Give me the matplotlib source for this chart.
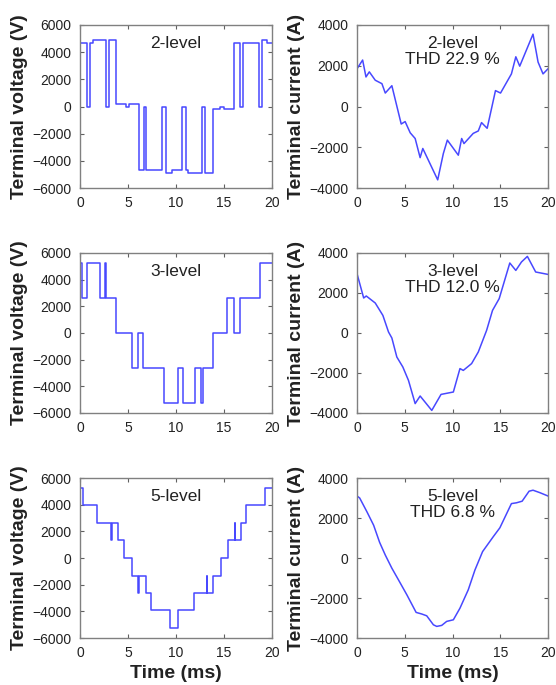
import matplotlib
matplotlib.use("Agg")
import matplotlib.pyplot as plt
import numpy as np

plt.rcParams['font.family'] = ['Liberation Sans', 'DejaVu Sans']

# ---------------- data ----------------
# 2-level terminal voltage (step, steps-post)
v2_t = [0, 0.70, 1.04, 1.32, 2.71, 3.06, 3.76, 4.80, 5.15, 6.19, 6.68, 6.89, 8.52, 8.97,
        9.57, 10.61, 11.03, 11.30, 12.70, 13.04, 13.84, 14.61, 15.03, 16.07, 16.70, 16.97,
        18.61, 18.96, 19.48, 20]
v2_v = [4650, 0, 4650, 4900, 0, 4900, 200, 0, 200, -4650, 0, -4650, 0, -4900,
        -4650, 0, -4650, -4900, 0, -4900, -200, 0, -200, 4650, 0, 4650,
        0, 4900, 4650, 4650]

# 3-level terminal voltage
v3_t = [0, 0.17, 0.77, 2.09, 2.60, 2.70, 3.76, 5.39, 6.09, 6.60, 8.77, 10.16, 10.78,
        12.00, 12.62, 12.78, 13.84, 15.30, 16.07, 16.70, 18.70, 20]
v3_v = [5260, 2600, 5260, 2600, 5260, 2600, 0, -2650, 0, -2650, -5260, -2650, -5260,
        -2650, -5260, -2650, 0, 2600, 0, 2600, 5260, 5260]

# 5-level terminal voltage
v5_t = [0, 0.28, 1.81, 3.28, 3.36, 4.00, 4.59, 5.39, 6.09, 6.17, 6.89, 7.37, 9.39,
        10.26, 11.83, 13.20, 13.28, 13.90, 14.68, 15.37, 16.10, 16.18, 16.77, 17.32,
        19.30, 20]
v5_v = [5280, 3960, 2640, 1340, 2640, 1340, 0, -1320, -2640, -1320, -2640, -3930, -5250,
        -3930, -2640, -1320, -2640, -1320, 0, 1340, 2640, 1340, 2640, 3960,
        5280, 5280]

# terminal currents
i2_t = [0, 0.59, 0.94, 1.29, 1.91, 2.61, 2.96, 3.65, 4.63, 5.04, 5.57, 6.09, 6.61, 6.89,
        8.45, 9.04, 9.46, 10.61, 10.96, 11.20, 12.17, 12.70, 13.04, 13.63, 14.50, 15.03,
        16.17, 16.63, 17.04, 18.43, 18.96, 19.48, 20]
i2_v = [1850, 2280, 1450, 1700, 1290, 1120, 660, 1020, -860, -740, -1290, -1570, -2510,
        -2060, -3600, -2310, -1650, -2390, -1570, -1820, -1320, -1200, -790, -1070, 780,
        660, 1600, 2440, 1980, 3550, 2180, 1600, 1850]

i3_t = [0, 0.70, 0.97, 1.91, 2.71, 3.30, 3.65, 4.17, 4.80, 5.39, 6.09, 6.61, 7.83, 8.80,
        10.09, 10.78, 11.13, 12.00, 12.70, 13.57, 14.19, 14.89, 16.00, 16.63, 17.22,
        17.84, 18.71, 20]
i3_v = [2970, 1750, 1850, 1500, 880, 50, -250, -1200, -1700, -2370, -3530, -3150, -3870,
        -3070, -2950, -1780, -1870, -1530, -950, 130, 1130, 1720, 3500, 3130, 3550,
        3830, 3050, 2930]

i5_t = [0, 0.28, 1.04, 1.74, 2.37, 2.96, 3.65, 4.35, 5.22, 6.19, 6.78, 7.30, 8.00, 8.35,
        8.87, 9.39, 10.09, 10.78, 11.65, 12.35, 13.15, 14.26, 14.96, 16.17, 16.70, 17.29,
        18.02, 18.43, 19.13, 20]
i5_v = [3100, 3000, 2310, 1640, 780, 150, -510, -1100, -1840, -2720, -2800, -2890, -3340,
        -3420, -3370, -3170, -3090, -2510, -1590, -600, 320, 1060, 1510, 2720, 2760, 2840,
        3340, 3390, 3270, 3100]

level_labels = ["2-level", "3-level", "5-level"]
thd_labels = ["THD 22.9 %", "THD 12.0 %", "THD 6.8 %"]
x_ticks = [0, 5, 10, 15, 20]
v_ticks = [-6000, -4000, -2000, 0, 2000, 4000, 6000]
i_ticks = [-4000, -2000, 0, 2000, 4000]

# ---------------- layout ----------------
W, H = 556, 685
fig = plt.figure(figsize=(W / 100, H / 100), dpi=100)
fig.patch.set_facecolor('white')

cols = [(80, 272), (357, 548)]
rows = [(25, 188), (253, 413), (478, 638)]

line_color = '#4848ff'
text_color = '#222222'
spine_color = '#808080'


def make_ax(col, row):
    x0, x1 = cols[col]
    y0, y1 = rows[row]
    ax = fig.add_axes([x0 / W, (H - y1) / H, (x1 - x0) / W, (y1 - y0) / H])
    for s in ax.spines.values():
        s.set_color(spine_color)
        s.set_linewidth(1.0)
    ax.tick_params(direction='in', top=True, right=True, length=3, width=0.8,
                   color='#606060', labelsize=10, labelcolor=text_color, pad=6)
    ax.set_xlim(0, 20)
    ax.set_xticks(x_ticks)
    return ax


volt = [(v2_t, v2_v), (v3_t, v3_v), (v5_t, v5_v)]
curr = [(i2_t, i2_v), (i3_t, i3_v), (i5_t, i5_v)]

for r in range(3):
    ax = make_ax(0, r)
    t, v = volt[r]
    ax.step(t, v, where='post', color=line_color, lw=1.1)
    ax.set_ylim(-6000, 6000)
    ax.set_yticks(v_ticks)
    ax.set_ylabel("Terminal voltage (V)", fontsize=14, fontweight='bold',
                  color=text_color)
    ax.yaxis.set_label_coords(-52 / 192, 0.5)
    ax.text(0.5, 0.93, level_labels[r], transform=ax.transAxes, ha='center', va='top',
            fontsize=12.5, color=text_color)
    if r == 2:
        ax.set_xlabel("Time (ms)", fontsize=14, fontweight='bold', color=text_color,
                      labelpad=3)

    ax = make_ax(1, r)
    t, v = curr[r]
    ax.plot(t, v, color=line_color, lw=1.1)
    ax.set_ylim(-4000, 4000)
    ax.set_yticks(i_ticks)
    ax.set_ylabel("Terminal current (A)", fontsize=14, fontweight='bold',
                  color=text_color)
    ax.yaxis.set_label_coords(-52 / 191, 0.5)
    ax.text(0.5, 0.93, level_labels[r] + "\n" + thd_labels[r], transform=ax.transAxes,
            ha='center', va='top', fontsize=12.5, color=text_color, linespacing=1.05)
    if r == 2:
        ax.set_xlabel("Time (ms)", fontsize=14, fontweight='bold', color=text_color,
                      labelpad=3)

fig.savefig("out.png", dpi=100, facecolor='white')
